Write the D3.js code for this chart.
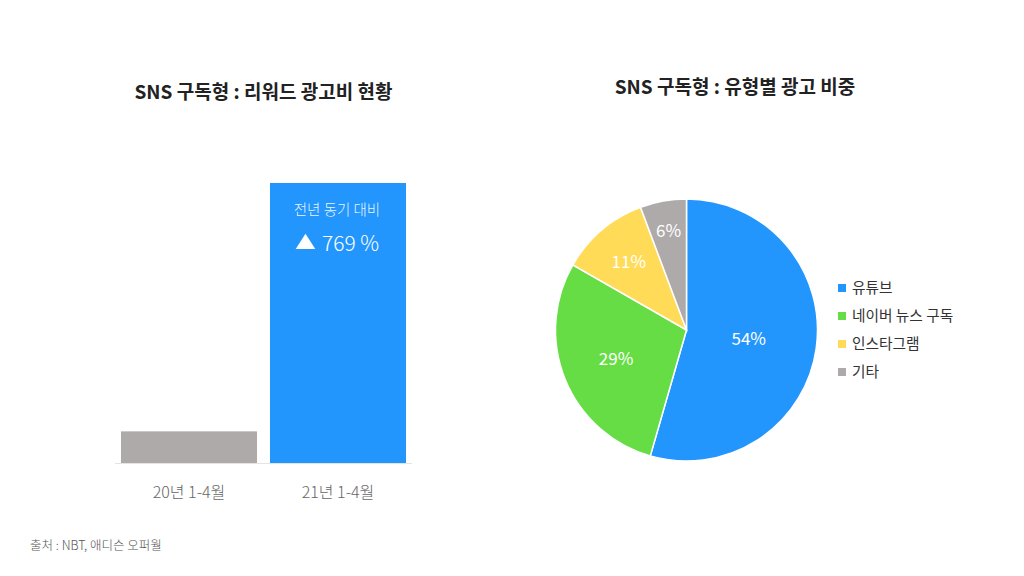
<!DOCTYPE html>
<html>
<head>
<meta charset="utf-8">
<script src="https://cdn.jsdelivr.net/npm/d3@7"></script>
<style>
  html, body { margin: 0; padding: 0; background: #fff; }
  svg { display: block; font-family: "Noto Sans CJK KR", "Noto Sans", sans-serif; }
</style>
</head>
<body>
<svg id="chart" width="1024" height="576"></svg>
<script>
// bar chart data (relative ad spend, 21년 = 100)
var barLabels = ["20년 1-4월", "21년 1-4월"];
var barValues = [11.3, 100];
var barColors = ["#aeaaaa", "#2396fe"];
var growthText = "769 %";

// pie chart data (share, %)
var pieLabels = ["유튜브", "네이버 뉴스 구독", "인스타그램", "기타"];
var pieValues = [54.4, 28.8, 11, 5.7];
var pieColors = ["#2396fe", "#66dd44", "#ffdb57", "#aeaaaa"];

var svg = d3.select("#chart");

// ---- left: bar chart ----
var bx = d3.scaleBand()
    .domain(barLabels)
    .range([121, 406])
    .paddingInner(0.087)
    .paddingOuter(0);

var by = d3.scaleLinear()
    .domain([0, 100])
    .range([463, 183]);

svg.append("text")
    .attr("x", 263.5)
    .attr("y", 99)
    .attr("text-anchor", "middle")
    .style("font-size", "19px")
    .style("font-weight", "bold")
    .style("fill", "#222")
    .text("SNS 구독형 : 리워드 광고비 현황");

var gBar = svg.append("g").attr("class", "bars");

gBar.selectAll("rect")
    .data(barValues)
    .enter()
    .append("rect")
    .attr("x", function(d, i) { return bx(barLabels[i]); })
    .attr("y", function(d) { return by(d); })
    .attr("width", bx.bandwidth())
    .attr("height", function(d) { return by(0) - by(d); })
    .style("fill", function(d, i) { return barColors[i]; });

// baseline + category labels via axis
var xAxis = svg.append("g")
    .attr("transform", "translate(0," + by(0) + ")")
    .call(d3.axisBottom(bx).tickSize(0).tickPadding(24));
xAxis.select(".domain").attr("stroke", "#e4e4e4").attr("d", "M115,0.5H412");
xAxis.selectAll("text")
    .style("font-family", "\"Noto Sans CJK KR\", sans-serif")
    .style("font-size", "16px")
    .style("font-weight", 300)
    .style("fill", "#666");

// label inside the 21년 bar
var cx2 = bx(barLabels[1]) + bx.bandwidth() / 2;
svg.append("text")
    .attr("x", cx2 - 1)
    .attr("y", 215)
    .attr("text-anchor", "middle")
    .style("font-size", "14.5px")
    .style("font-weight", 300)
    .style("fill", "#fff")
    .style("fill-opacity", 0.92)
    .text("전년 동기 대비");

svg.append("path")
    .attr("d", d3.symbol().type(d3.symbolTriangle).size(150)())
    .attr("transform", "translate(" + (cx2 - 32.5) + ",244) scale(1.05,0.95)")
    .style("fill", "#fff");

svg.append("text")
    .attr("x", cx2 - 16)
    .attr("y", 251)
    .style("font-size", "21px")
    .style("font-weight", 300)
    .style("fill", "#fff")
    .text(growthText);

// ---- right: pie chart ----
svg.append("text")
    .attr("x", 735)
    .attr("y", 94)
    .attr("text-anchor", "middle")
    .style("font-size", "19px")
    .style("font-weight", "bold")
    .style("fill", "#222")
    .text("SNS 구독형 : 유형별 광고 비중");

var pcx = 686.5, pcy = 330, r = 131;

var pie = d3.pie().sort(null).value(function(d) { return d; });
var arc = d3.arc().innerRadius(0).outerRadius(r);

var gPie = svg.append("g").attr("transform", "translate(" + pcx + "," + pcy + ")");
var arcs = pie(pieValues);

gPie.selectAll("path")
    .data(arcs)
    .enter()
    .append("path")
    .attr("d", arc)
    .style("fill", function(d, i) { return pieColors[i]; })
    .style("stroke", "#fff")
    .style("stroke-width", 1.5);

var labelR = [0.48, 0.58, 0.68, 0.77];
gPie.selectAll("text")
    .data(arcs)
    .enter()
    .append("text")
    .attr("transform", function(d, i) {
        var a = d3.arc().innerRadius(r * labelR[i]).outerRadius(r * labelR[i]);
        return "translate(" + a.centroid(d) + ")";
    })
    .attr("dy", "0.35em")
    .attr("text-anchor", "middle")
    .style("font-size", "17px")
    .style("fill", "#fff")
    .text(function(d) { return Math.round(d.data) + "%"; });

// legend
var legend = svg.append("g").attr("transform", "translate(838,288)");
var lg = legend.selectAll("g")
    .data(pieLabels)
    .enter()
    .append("g")
    .attr("transform", function(d, i) { return "translate(0," + (i * 28) + ")"; });

lg.append("rect")
    .attr("x", 0)
    .attr("y", -4)
    .attr("width", 8)
    .attr("height", 8)
    .style("fill", function(d, i) { return pieColors[i]; });

lg.append("text")
    .attr("x", 14)
    .attr("dy", "0.35em")
    .style("font-size", "14.7px")
    .style("fill", "#333")
    .text(function(d) { return d; });

// source note
svg.append("text")
    .attr("x", 30)
    .attr("y", 550)
    .style("font-size", "12.5px")
    .style("font-weight", 300)
    .style("fill", "#555")
    .text("출처 : NBT, 애디슨 오퍼월");
</script>
</body>
</html>
